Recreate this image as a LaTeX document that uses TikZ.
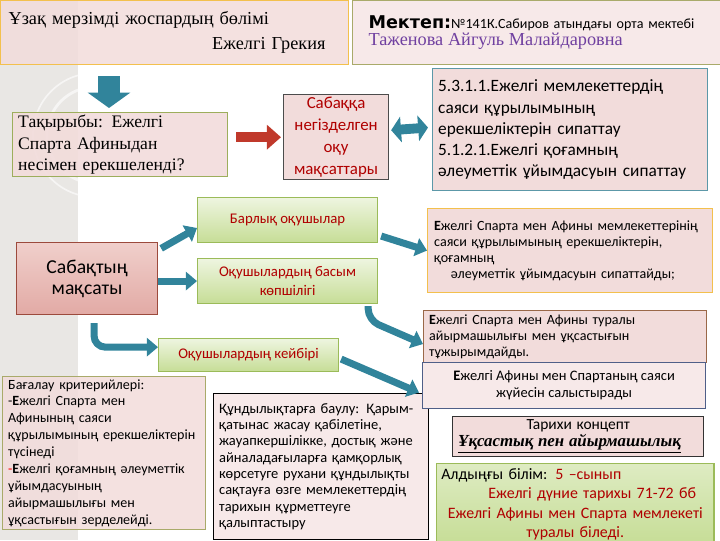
\documentclass[tikz,border=0pt]{standalone}
\usepackage{fontspec}
\setmainfont{Carlito}
\newfontfamily\serifkz{Liberation Serif}
\newfontfamily\heavykz{DejaVu Sans}
\usetikzlibrary{arrows.meta, positioning, calc}

\definecolor{pinkfill}{HTML}{F2DCDB}
\definecolor{palepink}{HTML}{F7E9E9}
\definecolor{stripgray}{HTML}{E9E7E4}
\definecolor{goldbd}{HTML}{F3C04D}
\definecolor{olivebd}{HTML}{A9AA6A}
\definecolor{topicbd}{HTML}{9DAE5C}
\definecolor{greenbd}{HTML}{9BBB59}
\definecolor{greentop}{HTML}{EEF5E0}
\definecolor{greenbot}{HTML}{C6DD96}
\definecolor{tealbd}{HTML}{5C98A8}
\definecolor{arrowteal}{HTML}{31849B}
\definecolor{arrowred}{HTML}{C0392B}
\definecolor{darkred}{HTML}{B00000}
\definecolor{salmontop}{HTML}{F0CFCB}
\definecolor{salmonbot}{HTML}{E2AAA5}
\definecolor{salmonbd}{HTML}{9C4A3C}
\definecolor{brownbd}{HTML}{9A6848}
\definecolor{slatebd}{HTML}{4F5F88}
\definecolor{namepurple}{HTML}{7040A0}

\begin{document}
\begin{tikzpicture}[
  x=0.025cm, y=-0.025cm,
  card/.style={draw=#1, fill=pinkfill, anchor=north west, line width=0.8pt, inner xsep=4pt, inner ysep=2pt},
  greenbox/.style={draw=greenbd, line width=0.8pt, top color=greentop, bottom color=greenbot, anchor=north west,
    minimum width=4.5cm, minimum height=1.125cm, align=center, text=darkred, font=\fontsize{10.5}{13}\selectfont},
  smalltxt/.style={font=\fontsize{10}{11.5}\selectfont},
  tarrow/.style={draw=arrowteal, line width=5pt, -{Triangle[length=8pt,width=13pt]}}
]
\useasboundingbox (0,0) rectangle (720,540);

% textured strip on the left
\fill[stripgray] (0,0) rectangle (78,540);
\begin{scope}
  \clip (0,0) rectangle (78,540);
  \draw[white!60!stripgray, line width=2pt] (95,135) circle (48);
  \draw[white!60!stripgray, line width=1.2pt] (95,135) circle (62);
\end{scope}

% header
\node[card=goldbd, fill opacity=0.85, text opacity=1, minimum width=8.7cm, minimum height=1.6cm, text width=8.3cm, align=left,
  font=\serifkz\fontsize{13}{18}\selectfont] (plan) at (0,0)
  {Ұзақ мерзімді жоспардың бөлімі\\ \makebox[\linewidth][r]{Ежелгі Грекия\hspace*{0.38cm}}};
\node[card=olivebd, fill=palepink, minimum width=9.2cm, minimum height=1.6cm, text width=8.4cm, align=left] (school) at (352,0)
  {{\heavykz\bfseries\fontsize{12.5}{15}\selectfont Мектеп:}{\fontsize{10}{15}\selectfont №141К.Сабиров атындағы орта мектебі}\\
   {\serifkz\color{namepurple}\fontsize{13}{16}\selectfont Таженова Айгуль Малайдаровна}};

% topic and objectives
\node[card=topicbd, fill opacity=0.9, text opacity=1, minimum width=5.325cm, minimum height=1.575cm, text width=5.1cm, align=left,
  font=\serifkz\fontsize{12.5}{15}\selectfont] (topic) at (12,112)
  {Тақырыбы: Ежелгі\\ Спарта Афиныдан\\ несімен ерекшеленді?};
\node[card=black!70, minimum width=2.625cm, minimum height=2.025cm, align=center, text=darkred,
  font=\fontsize{12}{15.5}\selectfont] (goalsrc) at (283,94)
  {Сабаққа\\ негізделген\\ оқу\\ мақсаттары};
\node[card=tealbd, minimum width=6.85cm, minimum height=3.05cm, text width=6.6cm, align=left,
  font=\fontsize{12.3}{15}\selectfont] (standards) at (432,68)
  {5.3.1.1.Ежелгі мемлекеттердің\\ саяси құрылымының\\ ерекшеліктерін сипаттау\\ 5.1.2.1.Ежелгі қоғамның\\ әлеуметтік ұйымдасуын сипаттау};

% lesson aim and the three groups
\node[draw=salmonbd, line width=0.8pt, top color=salmontop, bottom color=salmonbot, anchor=north west,
  minimum width=3.525cm, minimum height=1.8cm, align=center, font=\fontsize{14}{15}\selectfont] (aim) at (16,242)
  {Сабақтың\\ мақсаты};
\node[greenbox] (all) at (197,197) {Барлық оқушылар};
\node[greenbox] (most) at (197,258) {Оқушылардың басым\\ көпшілігі};
\node[greenbox, minimum height=0.825cm] (some) at (158,338) {Оқушылардың кейбірі};

% outcomes
\node[card=goldbd, smalltxt, minimum width=7.125cm, minimum height=2.1cm, text width=6.8cm, align=left] (spartaA) at (427,208)
  {\textbf{Е}желгі Спарта мен Афины мемлекеттерінің\\ саяси құрылымының ерекшеліктерін,\\ қоғамның\\
   \hspace*{1.2em}әлеуметтік  ұйымдасуын  сипаттайды;};
\node[card=brownbd, smalltxt, minimum width=7cm, minimum height=1.3cm, text width=6.8cm, align=left] (spartaB) at (423,310)
  {\textbf{Е}желгі Спарта  мен Афины туралы\\ айырмашылығы мен ұқсастығын\\ тұжырымдайды.};

% criteria and values
\node[card=olivebd, fill opacity=0.85, text opacity=1, minimum width=5cm, minimum height=3.775cm, text width=4.8cm, align=left,
  font=\fontsize{10}{12}\selectfont] (criteria) at (2,376)
  {Бағалау критерийлері:\\ -\textbf{Е}желгі Спарта мен\\ Афинының саяси\\ құрылымының ерекшеліктерін\\ түсінеді\\
   \textcolor{red}{-}\textbf{Е}желгі қоғамның әлеуметтік\\ ұйымдасуының\\ айырмашылығы мен\\ ұқсастығын  зерделейді.};
\node[card=black, fill=palepink, minimum width=5.35cm, minimum height=3.65cm, text width=5.1cm, align=left,
  font=\fontsize{10.3}{11.6}\selectfont] (values) at (213,393)
  {Құндылықтарға баулу: Қарым-\\ қатынас жасау қабілетіне,\\ жауапкершілікке, достық және\\ айналадағыларға қамқорлық\\
   көрсетуге рухани құндылықты\\ сақтауға  өзге мемлекеттердің\\ тарихын құрметтеуге\\ қалыптастыру};
\node[card=slatebd, fill=palepink, minimum width=7.075cm, minimum height=1.15cm, align=center,
  font=\fontsize{10.3}{12}\selectfont] (compare) at (422,362)
  {\textbf{Е}желгі Афины мен Спартаның саяси\\ жүйесін салыстырады};

% concept and prior knowledge
\node[card=black!80, minimum width=6.25cm, minimum height=1.0cm, text width=6cm, align=left] (concept) at (452,416)
  {\makebox[\linewidth]{\fontsize{11}{13}\selectfont Тарихи концепт}\\
   {\serifkz\bfseries\itshape\fontsize{12}{13}\selectfont\underline{Ұқсастық пен айырмашылық}}};
\node[draw=greenbd, line width=0.8pt, top color=greentop!60!greenbot, bottom color=greenbot, anchor=north west,
  minimum width=6.925cm, minimum height=1.95cm, text width=6.7cm, align=center, text=darkred,
  font=\fontsize{11.3}{13.8}\selectfont] (prior) at (436,463)
  {\makebox[\linewidth][l]{\textcolor{black}{Алдыңғы білім:} 5 –сынып}\\
   \hspace*{24pt}Ежелгі дүние тарихы 71-72 бб\\ Ежелгі Афины мен Спарта мемлекеті\\ туралы біледі.};

% block arrows
\draw[draw=arrowteal, line width=15pt, -{Triangle[length=11pt,width=30pt]}]
  ($(plan.south west)+(109,11)$) -- ($(topic.north west)+(97,-4)$);
\draw[draw=white, line width=10pt, -{Triangle[length=12pt,width=21pt]}]
  ($(topic.east |- goalsrc.west)+(7,0)$) -- (goalsrc.west);
\draw[draw=arrowred, line width=7pt, -{Triangle[length=10pt,width=17pt]}]
  ($(topic.east |- goalsrc.west)+(8,0)$) -- ($(goalsrc.west)+(-2,0)$);
\draw[draw=arrowteal, line width=7pt, {Triangle[length=7pt,width=18pt]}-{Triangle[length=7pt,width=18pt]}]
  ($(goalsrc.east)+(2,-7)$) -- ($(standards.west)+(-4,-2)$);

\draw[tarrow] ($(aim.23)+(3,0)$) -- (all.185);
\draw[tarrow] (aim.east |- most.west) -- (most.west);
\draw[tarrow, rounded corners=8pt] ($(aim.south)+(7,8)$) |- (some.175);
\draw[tarrow] ($(all.-10)+(3,0)$) -- (spartaA.west);
\draw[tarrow, rounded corners=8pt] ($(most.south east)+(-10,2)$) -- ++(0,14) -- (spartaB.183);
\draw[tarrow] ($(some.east)+(2,4)$) -- ($(compare.west)+(-3,7)$);
\end{tikzpicture}
\end{document}
